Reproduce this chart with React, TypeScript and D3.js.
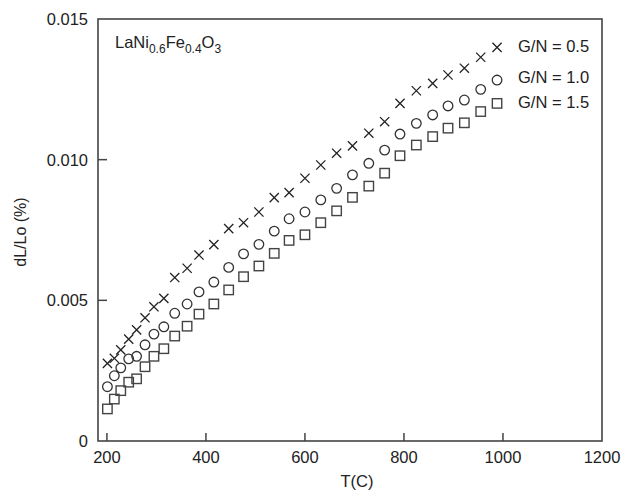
import React from "react";
import * as d3 from "d3";

const temps = [201, 215, 228, 244, 260, 277, 295, 315, 337, 362, 386, 416, 446, 476, 507, 538, 568, 600, 632, 664, 696, 729, 761, 792, 825, 858, 889, 922, 955, 988];

const gn05 = [0.00276, 0.00294, 0.00324, 0.00362, 0.00395, 0.00438, 0.00477, 0.00507, 0.00581, 0.00614, 0.00661, 0.00698, 0.00755, 0.00776, 0.00814, 0.00865, 0.00883, 0.00934, 0.00981, 0.01023, 0.01049, 0.01094, 0.01135, 0.01200, 0.01245, 0.01271, 0.01301, 0.01325, 0.01364, 0.01399];

const gn10 = [0.00193, 0.00232, 0.00260, 0.00292, 0.00301, 0.00342, 0.00380, 0.00406, 0.00454, 0.00487, 0.00530, 0.00565, 0.00617, 0.00665, 0.00699, 0.00746, 0.00790, 0.00814, 0.00857, 0.00898, 0.00946, 0.00987, 0.01034, 0.01091, 0.01129, 0.01159, 0.01191, 0.01212, 0.01250, 0.01283];

const gn15 = [0.00114, 0.00149, 0.00179, 0.00209, 0.00221, 0.00264, 0.00301, 0.00328, 0.00373, 0.00408, 0.00451, 0.00487, 0.00537, 0.00584, 0.00622, 0.00667, 0.00713, 0.00733, 0.00776, 0.00818, 0.00866, 0.00906, 0.00952, 0.01014, 0.01052, 0.01082, 0.01112, 0.01131, 0.01171, 0.01200];

const xTicks = [200, 400, 600, 800, 1000, 1200];
const yTicks = [0, 0.005, 0.01, 0.015];
const yTickLabels = ["0", "0.005", "0.010", "0.015"];
const legendLabels = ["G/N = 0.5", "G/N = 1.0", "G/N = 1.5"];

const W = 621;
const H = 490;
const left = 98, right = 602, top = 19, bottom = 441;
const ink = "#333";
const font = "'Liberation Sans', Arial, sans-serif";

export default function App() {
  const x = d3.scaleLinear().domain([182, 1200]).range([left, right]);
  const y = d3.scaleLinear().domain([0, 0.015]).range([bottom, top]);

  const cross = (cx: number, cy: number, k: string) => {
    const s = 4.6;
    return (
      <path key={k} d={`M${cx - s},${cy - s}L${cx + s},${cy + s}M${cx - s},${cy + s}L${cx + s},${cy - s}`} stroke="#222" strokeWidth={1.3} fill="none" />
    );
  };
  const circ = (cx: number, cy: number, k: string) => (
    <circle key={k} cx={cx} cy={cy} r={4.8} stroke={ink} strokeWidth={1.3} fill="none" />
  );
  const sq = (cx: number, cy: number, k: string) => (
    <rect key={k} x={cx - 4.7} y={cy - 4.7} width={9.4} height={9.4} stroke="#444" strokeWidth={1.4} fill="none" />
  );

  const legendY = [46, 77, 102];

  return (
    <svg width={W} height={H} style={{ position: "absolute", left: 0, top: 0, background: "#fff" }} fontFamily={font}>
      <rect x={0} y={0} width={W} height={H} fill="#fff" />
      {/* frame */}
      <rect x={left} y={top} width={right - left} height={bottom - top} fill="none" stroke="#444" strokeWidth={1.6} />
      {/* x ticks */}
      {xTicks.map((t) => (
        <g key={"xt" + t}>
          {t < 1200 && <line x1={x(t)} x2={x(t)} y1={bottom} y2={bottom - 8} stroke="#444" strokeWidth={1.5} />}
          <text x={x(t)} y={463} textAnchor="middle" fontSize={16.5} fill="#222">{t}</text>
        </g>
      ))}
      {/* y ticks */}
      {yTicks.map((t, i) => (
        <g key={"yt" + t}>
          {t > 0 && t < 0.015 && <line x1={left} x2={left + 9} y1={y(t)} y2={y(t)} stroke="#444" strokeWidth={1.5} />}
          <text x={88} y={y(t) + 6} textAnchor="end" fontSize={16.5} fill="#222">{yTickLabels[i]}</text>
        </g>
      ))}
      <text x={357} y={487} textAnchor="middle" fontSize={16.5} fill="#222">T(C)</text>
      <text transform="translate(26,232) rotate(-90)" textAnchor="middle" fontSize={16} fill="#222">dL/Lo (%)</text>
      {/* annotation */}
      <text x={115} y={48} fontSize={16.5} fill="#222">
        LaNi<tspan fontSize={12} dy={5}>0.6</tspan><tspan dy={-5}>Fe</tspan><tspan fontSize={12} dy={5}>0.4</tspan><tspan dy={-5}>O</tspan><tspan fontSize={12} dy={5}>3</tspan>
      </text>
      {/* data */}
      {temps.map((t, i) => cross(x(t), y(gn05[i]), "a" + i))}
      {temps.map((t, i) => circ(x(t), y(gn10[i]), "b" + i))}
      {temps.map((t, i) => sq(x(t), y(gn15[i]), "c" + i))}
      {/* legend */}
      {legendLabels.map((l, i) => (
        <text key={l} x={518} y={legendY[i] + 6} fontSize={16.5} fill="#222">{l}</text>
      ))}
    </svg>
  );
}
